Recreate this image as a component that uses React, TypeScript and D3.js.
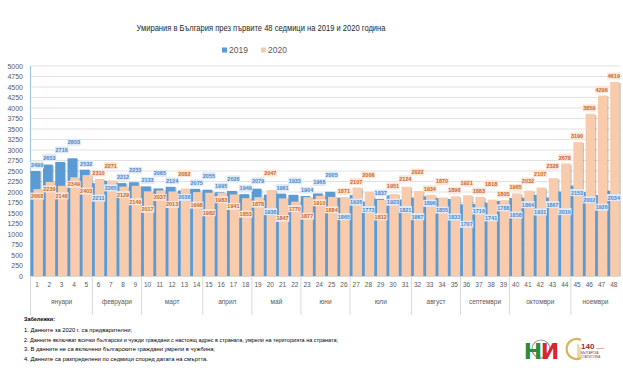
import React from "react";
import * as d3 from "d3";

const weeks = ["1","2","3","4","5","6","7","8","9","10","11","12","13","14","15","16","17","18","19","20","21","22","23","24","25","26","27","28","29","30","31","32","33","34","35","36","37","38","39","40","41","42","43","44","45","46","47","48"];

const values2019 = [2499,2653,2716,2803,2532,2211,2265,2212,2233,2133,2085,2124,2038,2075,2055,1995,2026,1949,2079,1938,1961,1933,1904,1966,2005,1865,1926,1773,1837,1923,1821,1867,1896,1855,1833,1707,1716,1741,1788,1858,1864,1931,1867,2010,2153,2002,1926,2034];

const values2020 = [2068,2239,2148,2349,2403,2310,2271,2129,2149,2017,2037,2013,2082,1998,1982,1983,1941,1853,1878,2047,1847,1770,1877,1910,1884,1871,2107,2006,1812,1951,2124,2022,1934,1870,1896,1921,1883,1818,1805,1965,2032,2107,2328,2678,3190,3859,4296,4619];

const monthNames = ["януари","февруари","март","април","май","юни","юли","август","септември","октомври","ноември"];
const monthWeekCounts = [5,4,5,4,4,4,5,4,4,5,4];

const yTicks = [0,250,500,750,1000,1250,1500,1750,2000,2250,2500,2750,3000,3250,3500,3750,4000,4250,4500,4750,5000];

const seriesNames = ["2019","2020"];

const title = "Умирания в България през първите 48 седмици на 2019 и 2020 година";
const notesTitle = "Забележки:";
const notes = [
  "1. Данните за 2020 г. са предварителни;",
  "2. Данните включват всички български и чужди граждани с настоящ адрес в страната, умрели на територията на страната;",
  "3. В данните не са включени българските граждани умрели в чужбина;",
  "4. Данните са разпределени по седмици според  датата на смъртта.",
];
const noteWidths = [108, 314, 191, 184];

const BLUE = "#5b9bd5";
const ORANGE = "#f8cbad";
const FONT = "'Liberation Sans', Arial, sans-serif";

export default function App() {
  const left = 31, right = 620, top = 66, bottom = 276;
  const x = d3.scaleBand<string>().domain(weeks).range([left, right]).paddingInner(0).paddingOuter(0);
  const y = d3.scaleLinear().domain([0, 5000]).range([bottom, top]);
  const bw = x.bandwidth();

  // label placement
  const lw = 13.5, lh = 7;
  type Lab = { cx: number; cy: number; text: string; series: number };
  const placed: Lab[] = [];
  const collides = (cx: number, cy: number) =>
    placed.some(p => Math.abs(p.cx - cx) < lw - 1 && Math.abs(p.cy - cy) < lh - 0.3);
  const upper: { i: number; s: number; v: number }[] = [];
  const lower: { i: number; s: number; v: number }[] = [];
  weeks.forEach((w, i) => {
    const a = values2019[i], b = values2020[i];
    if (a >= b) { upper.push({ i, s: 0, v: a }); lower.push({ i, s: 1, v: b }); }
    else { upper.push({ i, s: 1, v: b }); lower.push({ i, s: 0, v: a }); }
  });
  upper.forEach(u => {
    const cx = (x(weeks[u.i]) as number) + bw / 2;
    let cy = y(u.v) - 6;
    let k = 0;
    while (collides(cx, cy) && k < 40) { cy -= 1; k++; }
    placed.push({ cx, cy, text: String(u.v), series: u.s });
  });
  lower.forEach(u => {
    const cx = (x(weeks[u.i]) as number) + bw / 2;
    let cy = y(u.v) + 7;
    let k = 0;
    while (collides(cx, cy) && k < 40) { cy += 1; k++; }
    placed.push({ cx, cy, text: String(u.v), series: u.s });
  });

  // month boundaries
  let acc = 0;
  const months = monthNames.map((m, j) => {
    const start = acc;
    acc += monthWeekCounts[j];
    const x0 = x(weeks[start]) as number;
    const x1 = (x(weeks[acc - 1]) as number) + bw;
    return { name: m, x0, x1 };
  });

  return (
    <svg width={623} height={380} style={{ position: "absolute", left: 0, top: 0, background: "#fff" }} fontFamily={FONT}>
      <rect x={0} y={0} width={623} height={380} fill="#fff" />
      <text x={261} y={31} textAnchor="middle" fontSize={9.5} fill="#262626" textLength={249} lengthAdjust="spacingAndGlyphs">{title}</text>

      {/* legend */}
      <rect x={222} y={47.5} width={5} height={5} fill={BLUE} />
      <text x={229} y={53} fontSize={8.5} fill="#595959">{seriesNames[0]}</text>
      <rect x={261} y={47.5} width={5} height={5} fill={ORANGE} />
      <text x={268} y={53} fontSize={8.5} fill="#595959">{seriesNames[1]}</text>

      {/* grid + y labels */}
      {yTicks.map(t => (
        <g key={t}>
          <line x1={left} x2={right} y1={y(t)} y2={y(t)} stroke="#d9d9d9" strokeWidth={0.8} />
          <text x={23} y={y(t) + 2.5} textAnchor="end" fontSize={7} fill="#595959">{t}</text>
        </g>
      ))}
      <line x1={30.5} x2={30.5} y1={top} y2={bottom} stroke="#9dc3e6" strokeWidth={1} />

      {/* bars */}
      {weeks.map((w, i) => {
        const s = x(w) as number;
        const bx = s - 0.3, bwid = bw * 0.8;
        const ox = s + bw * 0.2, owid = bw * 0.76;
        const yb = y(values2019[i]), yo = y(values2020[i]);
        return (
          <g key={w}>
            <rect x={bx + 1.2} y={yb + 1} width={bwid} height={bottom - yb - 1} fill="#000" opacity={0.18} />
            <rect x={bx} y={yb} width={bwid} height={bottom - yb} fill={BLUE} />
            <rect x={ox + 1.3} y={yo + 1} width={owid} height={bottom - yo - 1} fill="#000" opacity={0.22} />
            <rect x={ox} y={yo} width={owid} height={bottom - yo} fill={ORANGE} />
          </g>
        );
      })}

      {/* data labels */}
      {placed.map((p, k) => (
        <g key={k}>
          <rect x={p.cx - lw / 2} y={p.cy - lh / 2} width={lw} height={lh}
            fill={p.series === 0 ? "#deeaf7" : "#fce4d6"} />
          <text x={p.cx} y={p.cy + 2} textAnchor="middle" fontSize={5.5} fontWeight="bold"
            fill={p.series === 0 ? "#4f86c9" : "#c9692a"}>{p.text}</text>
        </g>
      ))}

      {/* x axis */}
      <line x1={left} x2={right} y1={bottom + 0.5} y2={bottom + 0.5} stroke="#d9d9d9" strokeWidth={1} />
      {weeks.map(w => (
        <text key={w} x={(x(w) as number) + bw / 2} y={286.5} textAnchor="middle" fontSize={6.5} fill="#595959">{w}</text>
      ))}
      <line x1={30.5} x2={30.5} y1={bottom} y2={315} stroke="#d9d9d9" strokeWidth={1} />
      {months.map((m, j) => (
        <g key={m.name}>
          {j < months.length - 1 && (
            <line x1={m.x1} x2={m.x1} y1={bottom} y2={315} stroke="#d9d9d9" strokeWidth={1} />
          )}
          <text x={(m.x0 + m.x1) / 2} y={303.5} textAnchor="middle" fontSize={6.5} fill="#595959">{m.name}</text>
        </g>
      ))}

      {/* notes */}
      <text x={24} y={321} fontSize={6} fontWeight="bold" fill="#000" textLength={31} lengthAdjust="spacingAndGlyphs">{notesTitle}</text>
      {notes.map((n, i) => (
        <text key={i} x={24} y={332 + i * 9.7} fontSize={6} fill="#000" textLength={noteWidths[i]} lengthAdjust="spacingAndGlyphs">{n}</text>
      ))}

      {/* logos */}
      <g>
        <circle cx={541} cy={349} r={9} fill="none" stroke="#9a9a9a" strokeWidth={1.2} />
        <text x={533} y={359} textAnchor="middle" fontSize={22} fontWeight="bold" fill="#2e8b3a" fontFamily="'DejaVu Sans', sans-serif">Н</text>
        <text x={550} y={359} textAnchor="middle" fontSize={22} fontWeight="bold" fill="#d7262e" fontFamily="'DejaVu Sans', sans-serif">И</text>
      </g>
      <g>
        <path d="M 581 340 A 10 10 0 1 0 581 358" fill="none" stroke="#d9b25c" strokeWidth={2.2} />
        <line x1={578} x2={578} y1={344} y2={358} stroke="#d9b25c" strokeWidth={1} />
        <line x1={580} x2={580} y1={347} y2={358} stroke="#d9b25c" strokeWidth={1} />
        <text x={581} y={349} fontSize={8} fontWeight="bold" fill="#8e2b3a">140</text>
        <text x={596} y={349} fontSize={2.5} fill="#8e2b3a">години</text>
        <text x={581} y={354} fontSize={3} fill="#8e2b3a">БЪЛГАРСКА</text>
        <text x={581} y={358} fontSize={3} fill="#8e2b3a">СТАТИСТИКА</text>
      </g>
    </svg>
  );
}
